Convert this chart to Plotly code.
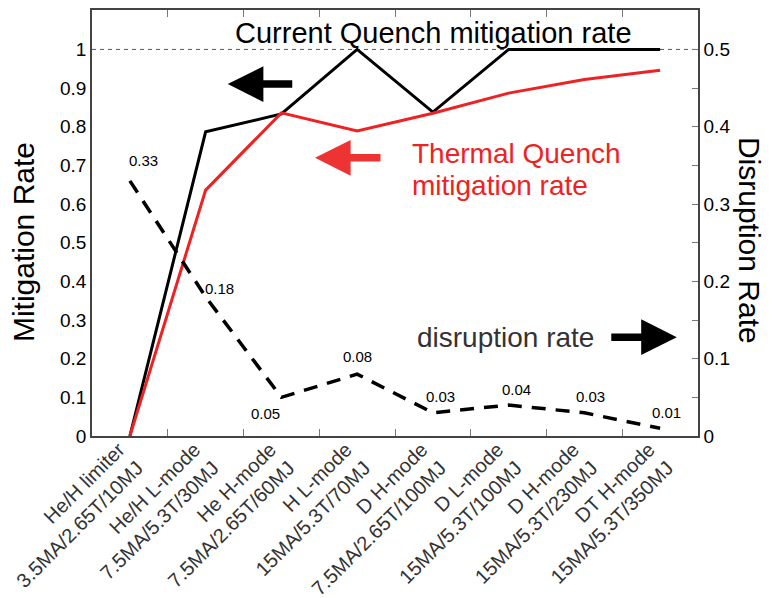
import plotly.graph_objects as go

categories = [
    "He/H limiter<br>3.5MA/2.65T/10MJ",
    "He/H L-mode<br>7.5MA/5.3T/30MJ",
    "He H-mode<br>7.5MA/2.65T/60MJ",
    "H L-mode<br>15MA/5.3T/70MJ",
    "D H-mode<br>7.5MA/2.65T/100MJ",
    "D L-mode<br>15MA/5.3T/100MJ",
    "D H-mode<br>15MA/5.3T/230MJ",
    "DT H-mode<br>15MA/5.3T/350MJ",
]
cq_mitigation = [0.0, 0.787, 0.833, 1.0, 0.838, 1.0, 1.0, 1.0]
tq_mitigation = [0.0, 0.636, 0.836, 0.789, 0.835, 0.887, 0.922, 0.946]
disruption = [0.33, 0.18, 0.05, 0.08, 0.03, 0.04, 0.03, 0.01]
disruption_labels = ["0.33", "0.18", "0.05", "0.08", "0.03", "0.04", "0.03", "0.01"]
label_shift = [(14, 20), (14, 8), (-16, -16), (0, 18), (8, 16), (8, 16), (6, 16), (6, 16)]

FONT = "Liberation Sans, Arial, sans-serif"
idx = list(range(len(categories)))
boundaries = [i + 0.5 for i in idx[:-1]]

fig = go.Figure()
fig.add_trace(go.Scatter(x=idx, y=cq_mitigation, mode="lines",
                         line=dict(color="black", width=3), showlegend=False))
fig.add_trace(go.Scatter(x=idx, y=tq_mitigation, mode="lines",
                         line=dict(color="#ee2222", width=3), showlegend=False))
fig.add_trace(go.Scatter(x=idx, y=disruption, mode="lines", xaxis="x2", yaxis="y2",
                         line=dict(color="black", width=3.5, dash="14px,10px"),
                         showlegend=False))

for i, v, t, (dx, dy) in zip(idx, disruption, disruption_labels, label_shift):
    fig.add_annotation(x=i, y=v, xref="x2", yref="y2", text=t, showarrow=False,
                       xshift=dx, yshift=dy, font=dict(size=15, color="black", family=FONT))

# dashed reference line at 1
fig.add_shape(type="line", xref="paper", x0=0, x1=1, yref="y", y0=1, y1=1,
              line=dict(color="#555555", width=1, dash="4px,4px"), layer="below")

def note(text, x, y, size, color, xanchor="center", **kw):
    fig.add_annotation(xref="paper", yref="paper", x=x, y=y, xanchor=xanchor,
                       yanchor="middle", text=text, showarrow=False,
                       font=dict(size=size, color=color, family=FONT), **kw)

def arrow(x, y, ax, color):
    fig.add_annotation(xref="paper", yref="paper", x=x, y=y, ax=ax, ay=0,
                       text="", showarrow=True, arrowhead=2, arrowsize=0.95,
                       arrowwidth=7.5, arrowcolor=color)

note("Current Quench mitigation rate", 0.563, 0.946, 29, "black")
arrow(0.224, 0.826, 66, "black")
arrow(0.368, 0.653, 67, "#ee3333")
note("Thermal Quench", 0.525, 0.663, 28, "#ee2222", xanchor="left")
note("mitigation rate", 0.525, 0.589, 28, "#ee2222", xanchor="left")
note("disruption rate", 0.533, 0.232, 28, "#333333", xanchor="left")
arrow(0.965, 0.232, -67, "black")
note("Disruption Rate", 1.086, 0.46, 30, "black", textangle=90)
note("Mitigation Rate", -0.114, 0.455, 30, "black", textangle=-90)

fig.update_layout(
    width=763, height=590,
    margin=dict(l=84, r=73, t=2, b=162, autoexpand=False),
    paper_bgcolor="white", plot_bgcolor="white",
    font=dict(family=FONT, color="black"),
    xaxis=dict(range=[-0.5, 7.5], tickmode="array", tickvals=boundaries,
               ticktext=[""] * len(boundaries), ticks="inside", ticklen=7,
               tickcolor="#777777", automargin=False,
               showline=True, linecolor="#444444", linewidth=1.5, mirror="ticks",
               showgrid=False, zeroline=False),
    xaxis2=dict(range=[-0.5, 7.5], overlaying="x", anchor="y2", side="bottom",
                tickmode="array", tickvals=idx, ticktext=categories,
                tickangle=-45, ticks="", ticklen=0, automargin=False,
                ticklabeloverflow="allow", ticklabelshift=-11, ticklabelstandoff=-3,
                showline=False, showgrid=False, zeroline=False,
                tickfont=dict(size=20, color="#333333", family=FONT)),
    yaxis=dict(range=[0, 1.102], tickvals=[0, 0.1, 0.2, 0.3, 0.4, 0.5, 0.6, 0.7, 0.8, 0.9, 1],
               ticktext=["0", "0.1", "0.2", "0.3", "0.4", "0.5", "0.6", "0.7", "0.8", "0.9", "1"],
               ticks="", showline=True, linecolor="#444444", linewidth=1.5,
               showgrid=False, zeroline=False, automargin=False,
               tickfont=dict(size=19, color="black", family=FONT)),
    yaxis2=dict(range=[0, 0.551], overlaying="y", side="right",
                tickvals=[0, 0.1, 0.2, 0.3, 0.4, 0.5],
                ticktext=["0", "0.1", "0.2", "0.3", "0.4", "0.5"],
                ticks="inside", ticklen=6, tickcolor="#777777",
                minor=dict(dtick=0.05, tick0=0, ticks="inside", ticklen=6, tickcolor="#777777"),
                showline=True, linecolor="#444444", linewidth=1.5,
                showgrid=False, zeroline=False, automargin=False,
                tickfont=dict(size=19, color="black", family=FONT)),
)

fig.write_html("out.html")
